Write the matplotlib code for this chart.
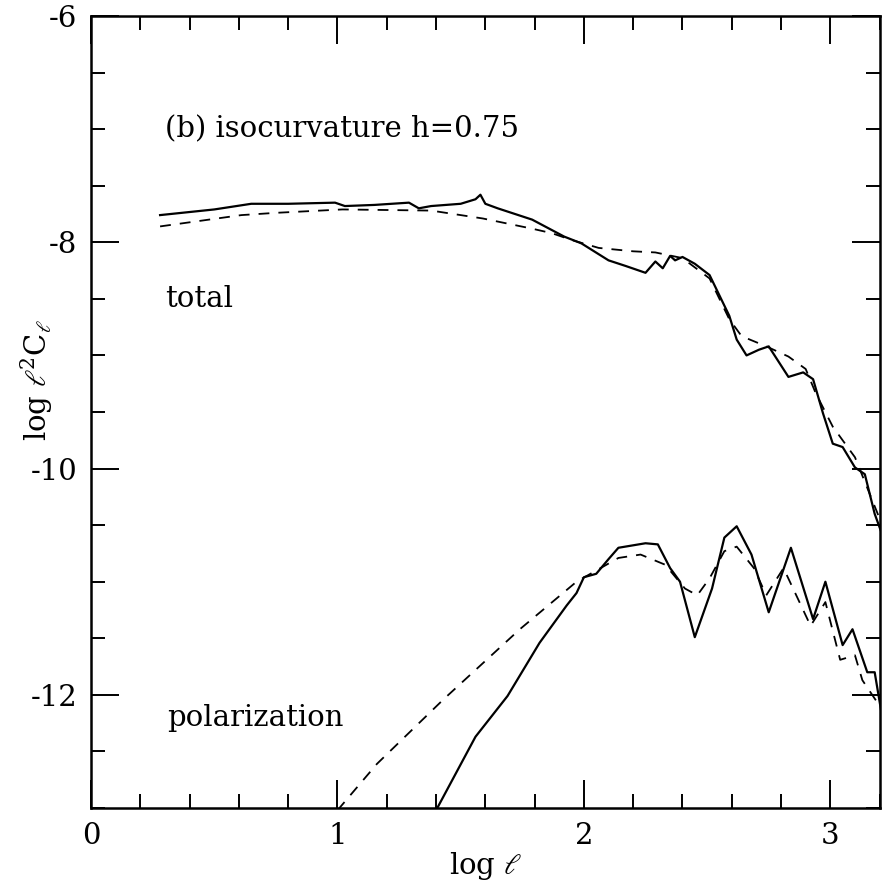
import matplotlib
matplotlib.use("Agg")
import matplotlib.pyplot as plt
from matplotlib.ticker import MultipleLocator

plt.rcParams['font.family'] = ['DejaVu Serif']
plt.rcParams['mathtext.fontset'] = 'dejavuserif'
plt.rcParams['axes.unicode_minus'] = False

# total: solid (full calculation) and dashed (approximation)
total_x = [0.28, 0.50, 0.65, 0.80, 0.99, 1.03, 1.15, 1.29, 1.33, 1.38, 1.50, 1.56, 1.58,
           1.60, 1.65, 1.79, 1.92, 1.99, 2.10, 2.17, 2.25, 2.29, 2.32, 2.35, 2.37, 2.40,
           2.45, 2.51, 2.55, 2.59, 2.62, 2.66, 2.71, 2.75, 2.83, 2.89, 2.93, 2.97, 3.01,
           3.05, 3.10, 3.14, 3.18, 3.22]
total_y = [-7.76, -7.71, -7.66, -7.66, -7.65, -7.68, -7.67, -7.65, -7.70, -7.68, -7.66,
           -7.62, -7.58, -7.66, -7.70, -7.80, -7.95, -8.01, -8.16, -8.21, -8.27, -8.17,
           -8.23, -8.12, -8.16, -8.13, -8.19, -8.29, -8.47, -8.65, -8.86, -9.00, -8.95,
           -8.92, -9.19, -9.15, -9.21, -9.51, -9.78, -9.81, -9.99, -10.05, -10.40, -10.64]

total_fit_x = [0.28, 0.61, 0.75, 1.02, 1.38, 1.59, 1.79, 1.87, 1.95, 2.06, 2.20, 2.29,
               2.40, 2.51, 2.59, 2.64, 2.74, 2.83, 2.90, 2.94, 3.01, 3.10, 3.22]
total_fit_y = [-7.86, -7.76, -7.74, -7.71, -7.72, -7.79, -7.88, -7.92, -7.98, -8.05,
               -8.08, -8.09, -8.14, -8.32, -8.68, -8.83, -8.92, -9.01, -9.12, -9.33,
               -9.63, -9.90, -10.55]

# polarization
pol_x = [1.40, 1.56, 1.69, 1.82, 1.93, 1.97, 2.00, 2.05, 2.10, 2.14, 2.25, 2.30, 2.35,
         2.39, 2.45, 2.52, 2.57, 2.62, 2.68, 2.75, 2.84, 2.93, 2.98, 3.05, 3.09, 3.15,
         3.18, 3.21]
pol_y = [-13.02, -12.37, -12.01, -11.54, -11.21, -11.10, -10.96, -10.93, -10.80, -10.70,
         -10.66, -10.67, -10.88, -11.00, -11.49, -11.06, -10.61, -10.51, -10.76, -11.27,
         -10.70, -11.33, -11.00, -11.56, -11.42, -11.80, -11.80, -12.19]

pol_fit_x = [1.00, 1.16, 1.43, 1.74, 1.97, 2.14, 2.23, 2.33, 2.41, 2.46, 2.51, 2.57,
             2.62, 2.69, 2.74, 2.81, 2.92, 2.98, 3.04, 3.10, 3.13, 3.21]
pol_fit_y = [-13.02, -12.61, -12.04, -11.42, -11.00, -10.79, -10.76, -10.85, -11.06,
             -11.12, -10.97, -10.73, -10.69, -10.88, -11.12, -10.88, -11.39, -11.18,
             -11.69, -11.65, -11.87, -12.13]

fig = plt.figure(figsize=(8.93, 8.86), dpi=100)
ax = fig.add_axes([0.102, 0.088, 0.883, 0.894])

dash = (0, (6, 5))
ax.plot(total_x, total_y, color='black', lw=1.6)
ax.plot(total_fit_x, total_fit_y, color='black', lw=1.3, linestyle=dash)
ax.plot(pol_x, pol_y, color='black', lw=1.6)
ax.plot(pol_fit_x, pol_fit_y, color='black', lw=1.3, linestyle=dash)

ax.set_xlim(0, 3.2)
ax.set_ylim(-13, -6)

ax.xaxis.set_major_locator(MultipleLocator(1))
ax.xaxis.set_minor_locator(MultipleLocator(0.2))
ax.yaxis.set_major_locator(MultipleLocator(2))
ax.yaxis.set_minor_locator(MultipleLocator(0.5))
ax.tick_params(which='both', direction='in', top=True, right=True, width=1.4,
               labelsize=21, colors='black')
ax.tick_params(which='major', length=20, pad=10)
ax.tick_params(which='minor', length=10)
for s in ax.spines.values():
    s.set_linewidth(1.8)

ax.text(0.30, -7.0, '(b) isocurvature h=0.75', fontsize=21, va='center', ha='left')
ax.text(0.30, -8.5, 'total', fontsize=21, va='center', ha='left')
ax.text(0.31, -12.2, 'polarization', fontsize=21, va='center', ha='left')

ax.set_xlabel(r'log $\ell$', fontsize=21, labelpad=0)
ax.set_ylabel(r'log $\ell^2$C$_\ell$', fontsize=21)
ax.yaxis.set_label_coords(-0.046, 0.54)

fig.savefig('out.png', dpi=100)
